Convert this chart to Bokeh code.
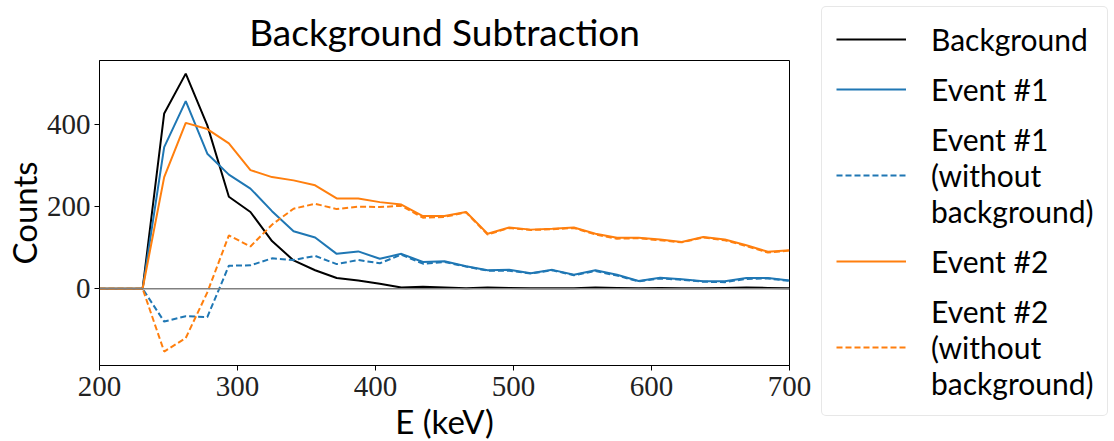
from bokeh.plotting import figure
from bokeh.models import Range1d, Legend, LegendItem, Span, FixedTicker
from bokeh.embed import file_html
from bokeh.resources import INLINE

# Energy bins (keV)
energy = [200.0, 215.625, 231.25, 246.875, 262.5, 278.125, 293.75, 309.375, 325.0,
          340.625, 356.25, 371.875, 387.5, 403.125, 418.75, 434.375, 450.0, 465.625,
          481.25, 496.875, 512.5, 528.125, 543.75, 559.375, 575.0, 590.625, 606.25,
          621.875, 637.5, 653.125, 668.75, 684.375, 700.0]

background = [0, 0, 0, 427, 524, 398, 224, 187, 116, 69, 45, 26, 20, 12, 3, 5, 3, 1,
              3, 2, 1, 1, 1, 3, 2, 1, 2, 1, 1, 2, 3, 2, 1]
event1 = [0, 0, 0, 345, 457, 329, 278, 244, 189, 140, 125, 85, 91, 73, 85, 65, 67, 55,
          45, 46, 38, 46, 34, 45, 34, 19, 27, 23, 18, 18, 26, 26, 20]
event1_nobg = [0, 0, 0, -80, -67, -69, 56, 57, 74, 70, 80, 60, 70, 62, 83, 61, 65, 54,
               44, 44, 37, 45, 33, 43, 32, 18, 25, 22, 17, 16, 24, 25, 19]
event2 = [0, 0, 0, 272, 404, 389, 354, 289, 272, 264, 252, 220, 220, 211, 205, 177,
          177, 187, 134, 149, 144, 146, 149, 134, 124, 124, 120, 114, 126, 120, 106, 90, 94]
event2_nobg = [0, 0, 0, -153, -120, -9, 130, 103, 156, 195, 207, 194, 200, 199, 202,
               173, 175, 186, 132, 148, 143, 145, 148, 132, 122, 123, 118, 113, 125,
               118, 104, 88, 93]

x_ticks = [200, 300, 400, 500, 600, 700]
y_ticks = [0, 200, 400]
labels = ["Background", "Event #1", "Event #1\n(without\nbackground)",
          "Event #2", "Event #2\n(without\nbackground)"]

SANS = "Lato"
SERIF = "Liberation Serif"
BLUE = "#1f77b4"
ORANGE = "#ff7f0e"
LW = 2
DASH = "6 3"
styles = [("black", "solid"), (BLUE, "solid"), (BLUE, DASH), (ORANGE, "solid"), (ORANGE, DASH)]
series = [background, event1, event1_nobg, event2, event2_nobg]

p = figure(frame_width=690, frame_height=305, width=1114, height=441,
           min_border_left=98, min_border_top=59, min_border_right=326, min_border_bottom=10,
           x_range=Range1d(200, 700), y_range=Range1d(-187, 556),
           output_backend="svg", toolbar_location=None,
           title="Background Subtraction")

p.title.text_font = SANS
p.title.text_font_size = "37px"
p.title.text_font_style = "normal"
p.title.align = "center"
p.title.text_color = "black"
p.title.standoff = 13

p.grid.visible = False
p.outline_line_color = "black"
p.outline_line_width = 1
p.background_fill_color = "white"
p.border_fill_color = "white"

for ax in (p.xaxis[0], p.yaxis[0]):
    ax.axis_label_text_font = SANS
    ax.axis_label_text_font_size = "33px"
    ax.axis_label_text_font_style = "normal"
    ax.axis_label_text_color = "black"
    ax.major_label_text_font = SERIF
    ax.major_label_text_font_size = "29px"
    ax.major_label_text_color = "#222222"
    ax.minor_tick_line_color = None
    ax.major_tick_out = 5
    ax.major_tick_in = 0
    ax.axis_line_color = "black"
    ax.major_tick_line_color = "black"

p.xaxis.axis_label = "E (keV)"
p.yaxis.axis_label = "Counts"
p.xaxis.ticker = FixedTicker(ticks=x_ticks)
p.yaxis.ticker = FixedTicker(ticks=y_ticks)
p.xaxis.major_label_standoff = 6
p.yaxis.major_label_standoff = 4
p.xaxis.axis_label_standoff = 2
p.yaxis.axis_label_standoff = 0

p.add_layout(Span(location=0, dimension="width", line_color="#808080", line_width=1.3))

items = []
for lab, ys, (col, dash) in zip(labels, series, styles):
    r = p.line(energy, ys, line_color=col, line_width=LW, line_dash=dash)
    items.append(LegendItem(label=lab, renderers=[r]))

legend = Legend(items=items, location=(32, -51))
legend.label_text_font = SANS
legend.label_text_font_size = "30px"
legend.label_text_line_height = 1.25
legend.label_text_color = "black"
legend.glyph_width = 70
legend.label_standoff = 25
legend.padding = 14
legend.spacing = 14
legend.margin = 0
legend.border_line_color = "#d0d0d0"
legend.border_line_width = 1
legend.background_fill_alpha = 0.8
try:
    legend.border_radius = 5
except Exception:
    pass
p.add_layout(legend, "right")

open("out.html", "w").write(file_html(p, INLINE))
